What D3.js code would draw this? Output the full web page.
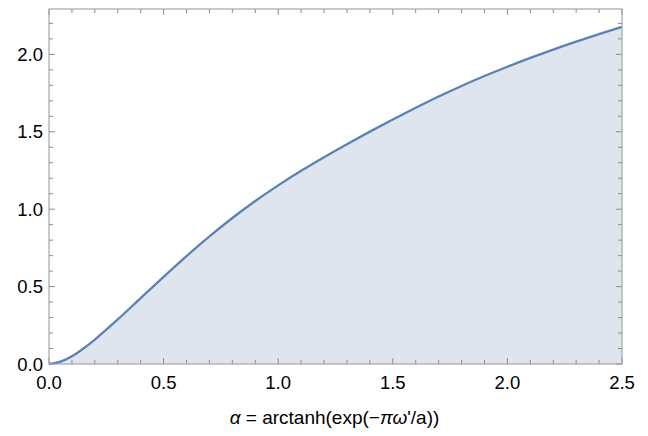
<!DOCTYPE html>
<html>
<head>
<meta charset="utf-8">
<script src="https://cdn.jsdelivr.net/npm/d3@7"></script>
<style>
    body { margin: 0; background: white; }
    text { font-family: "Liberation Sans", Arial, sans-serif; }
</style>
</head>
<body>
<div id="canvas"></div>
<script>
"use strict"

/* Data */
let alphaValues = [0, 0.05, 0.1, 0.15, 0.2, 0.3, 0.4, 0.5, 0.6, 0.7, 0.8, 0.9, 1.0,
    1.1, 1.2, 1.3, 1.4, 1.5, 1.6, 1.7, 1.8, 1.9, 2.0, 2.1, 2.2, 2.3, 2.4, 2.5];
let curveValues = [0, 0.015, 0.05, 0.1, 0.158, 0.288, 0.426, 0.563, 0.697, 0.824, 0.943, 1.053, 1.154,
    1.248, 1.336, 1.42, 1.501, 1.579, 1.655, 1.728, 1.796, 1.86, 1.92, 1.977, 2.031, 2.082, 2.131, 2.178];
let xMajorTicks = [0, 0.5, 1.0, 1.5, 2.0, 2.5];
let yMajorTicks = [0, 0.5, 1.0, 1.5, 2.0];
let xLabel = "arctanh(exp(\u2212";

/* Drawing config */
let svgWidth = 648;
let svgHeight = 436;
let plotLeft = 49;
let plotRight = 622;
let plotTop = 9;
let plotBottom = 364;
let frameColor = "#a6a6a6";
let tickColor = "#8c8c8c";

let svg = d3.select("#canvas")
    .append("svg")
    .attr("width", svgWidth)
    .attr("height", svgHeight);

let xScale = d3.scaleLinear()
    .domain([0, 2.5])
    .range([plotLeft, plotRight]);

let yScale = d3.scaleLinear()
    .domain([0, 2.293])
    .range([plotBottom, plotTop]);

let points = alphaValues.map(function(d, i) {
    return { x: d, y: curveValues[i] };
});

/* Filling down to the axis */
let area = d3.area()
    .x(d => xScale(d.x))
    .y0(yScale(0))
    .y1(d => yScale(d.y))
    .curve(d3.curveCatmullRom);

svg.append("path")
    .datum(points)
    .attr("d", area)
    .attr("fill", "#dfe5ef");

let line = d3.line()
    .x(d => xScale(d.x))
    .y(d => yScale(d.y))
    .curve(d3.curveCatmullRom);

svg.append("path")
    .datum(points)
    .attr("d", line)
    .attr("fill", "none")
    .attr("stroke", "#5e81b5")
    .attr("stroke-width", 2.3)
    .attr("stroke-linejoin", "round");

/**** Frame with ticks on all four sides ****/
let xMinor = d3.range(0, 26).map(d => d / 10);
let yMinor = d3.range(0, 23).map(d => d / 10);

function isMajor(v) {
    return Math.abs(v * 2 - Math.round(v * 2)) < 1e-6;
}

// bottom and top ticks
svg.selectAll(".xTick")
    .data(xMinor)
    .join("line")
    .attr("class", "xTick")
    .attr("x1", d => xScale(d))
    .attr("x2", d => xScale(d))
    .attr("y1", plotBottom)
    .attr("y2", d => plotBottom - (isMajor(d) ? 6 : 4))
    .attr("stroke", tickColor);

svg.selectAll(".xTickTop")
    .data(xMinor)
    .join("line")
    .attr("class", "xTickTop")
    .attr("x1", d => xScale(d))
    .attr("x2", d => xScale(d))
    .attr("y1", plotTop)
    .attr("y2", d => plotTop + (isMajor(d) ? 6 : 4))
    .attr("stroke", tickColor);

// left and right ticks
svg.selectAll(".yTick")
    .data(yMinor)
    .join("line")
    .attr("class", "yTick")
    .attr("y1", d => yScale(d))
    .attr("y2", d => yScale(d))
    .attr("x1", plotLeft)
    .attr("x2", d => plotLeft + (isMajor(d) ? 6 : 4))
    .attr("stroke", tickColor);

svg.selectAll(".yTickRight")
    .data(yMinor)
    .join("line")
    .attr("class", "yTickRight")
    .attr("y1", d => yScale(d))
    .attr("y2", d => yScale(d))
    .attr("x1", plotRight)
    .attr("x2", d => plotRight - (isMajor(d) ? 6 : 4))
    .attr("stroke", tickColor);

svg.append("rect")
    .attr("x", plotLeft)
    .attr("y", plotTop)
    .attr("width", plotRight - plotLeft)
    .attr("height", plotBottom - plotTop)
    .attr("fill", "none")
    .attr("stroke", frameColor)
    .attr("stroke-width", 1.2);

/**** tick labels ****/
svg.selectAll(".xTickLabel")
    .data(xMajorTicks)
    .join("text")
    .attr("class", "xTickLabel")
    .attr("x", d => xScale(d))
    .attr("y", plotBottom + 25)
    .attr("text-anchor", "middle")
    .style("font-size", "18.5px")
    .text(d => d.toFixed(1));

svg.selectAll(".yTickLabel")
    .data(yMajorTicks)
    .join("text")
    .attr("class", "yTickLabel")
    .attr("x", plotLeft - 6)
    .attr("y", d => yScale(d) + 6.5)
    .attr("text-anchor", "end")
    .style("font-size", "18.5px")
    .text(d => d.toFixed(1));

/**** x axis label ****/
let axisLabel = svg.append("text")
    .attr("x", 334.5)
    .attr("y", 424)
    .attr("text-anchor", "middle")
    .style("font-size", "19px");

axisLabel.append("tspan").style("font-style", "italic").text("\u03b1");
axisLabel.append("tspan").text(" = " + xLabel);
axisLabel.append("tspan").style("font-style", "italic").text("\u03c0\u03c9");
axisLabel.append("tspan").text("'/a))");
</script>
</body>
</html>
